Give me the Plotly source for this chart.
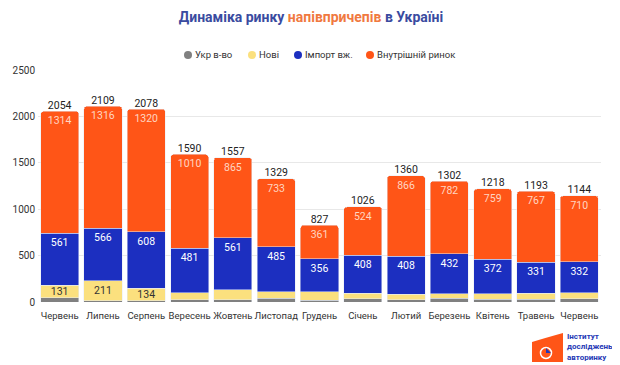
import plotly.graph_objects as go

months = ["Червень", "Липень", "Серпень", "Вересень", "Жовтень", "Листопад", "Грудень",
          "Січень", "Лютий", "Березень", "Квітень", "Травень", "Червень"]
ukr = [48, 16, 16, 24, 26, 39, 20, 33, 26, 38, 32, 30, 37]
new = [131, 211, 134, 75, 105, 72, 90, 61, 60, 50, 55, 65, 65]
imp = [561, 566, 608, 481, 561, 485, 356, 408, 408, 432, 372, 331, 332]
dom = [1314, 1316, 1320, 1010, 865, 733, 361, 524, 866, 782, 759, 767, 710]
new_labels = ["131", "211", "134", "", "", "", "", "", "", "", "", "", ""]
series_names = ["Укр в-во", "Нові", "Імпорт вж.", "Внутрішній ринок"]
y_ticks = [0, 500, 1000, 1500, 2000, 2500]

x = list(range(len(months)))
totals = [a + b + c + d for a, b, c, d in zip(ukr, new, imp, dom)]

C_GRAY = "#808080"
C_YEL = "#FBE07E"
C_BLUE = "#1C2FC0"
C_OR = "#FF5517"
COLORS = [C_GRAY, C_YEL, C_BLUE, C_OR]
FONT = "Roboto"

OFF = 8  # page body margin
W, H = 620 - OFF, 365 - OFF
ML, MT, MR, MB = 30, 62, 19, 63
PW, PH = W - ML - MR, H - MT - MB


def px(sx):  # screen x -> paper
    return (sx - OFF - ML) / PW


def py(sy):  # screen y -> paper
    return (H - MB - (sy - OFF)) / PH


fig = go.Figure()
fig.add_bar(x=x, y=ukr, marker_color=C_GRAY, showlegend=False, hoverinfo="skip")
fig.add_bar(x=x, y=new, marker_color=C_YEL, text=new_labels, textposition="inside",
            insidetextanchor="middle", textfont=dict(color="#333333", size=10.5, family=FONT),
            showlegend=False)
fig.add_bar(x=x, y=imp, marker_color=C_BLUE, text=[str(v) for v in imp], textposition="inside",
            insidetextanchor="end", textfont=dict(color="#FFFFFF", size=10.5, family=FONT),
            showlegend=False)
fig.add_bar(x=x, y=dom, marker_color=C_OR, text=[str(v) for v in dom], textposition="inside",
            insidetextanchor="end", textfont=dict(color="#FFD6C2", size=10.5, family=FONT),
            showlegend=False)
fig.add_scatter(x=x, y=totals, mode="text", text=[str(v) for v in totals],
                textposition="top center", textfont=dict(color="#222222", size=10.5, family=FONT),
                showlegend=False, cliponaxis=False)

fig.update_layout(
    width=W, height=H,
    margin=dict(l=ML, r=MR, t=MT, b=MB, autoexpand=False),
    paper_bgcolor="white", plot_bgcolor="white",
    barmode="stack", bargap=0.12, barcornerradius=3,
    font=dict(family=FONT, size=10, color="#333333"),
    uniformtext=dict(minsize=10, mode="show"),
    showlegend=False,
    title=dict(
        text="<b><span style='color:#3A4BA0'>Динаміка ринку </span>"
             "<span style='color:#F0793F'>напівпричепів</span>"
             "<span style='color:#3A4BA0'> в Україні</span></b>",
        x=(311 - OFF) / W, xanchor="center", y=1 - (17.5 - OFF) / H, yanchor="middle",
        font=dict(family=FONT, size=14)),
    xaxis=dict(tickvals=x, ticktext=months, range=[-0.5, len(months) - 0.5],
               showgrid=False, zeroline=False, showline=False, ticks="",
               tickangle=0, automargin=False, ticklabelstandoff=6,
               tickfont=dict(size=9.5, color="#333333")),
    yaxis=dict(range=[0, 2500], tickvals=y_ticks, showgrid=True, gridcolor="#E8E8E8",
               zeroline=False, showline=False, ticks="", ticklabelstandoff=2,
               automargin=False,
               tickfont=dict(size=10, color="#333333")),
)

# custom legend (circle markers close to their labels)
leg_marker_x = [188, 252, 298, 370]
leg_y = 55
for name, col, mx in zip(series_names, COLORS, leg_marker_x):
    fig.add_shape(type="circle", xref="paper", yref="paper", xsizemode="pixel", ysizemode="pixel",
                  xanchor=px(mx), yanchor=py(leg_y), x0=-4, x1=4, y0=-4, y1=4,
                  fillcolor=col, line_width=0)
    fig.add_annotation(text=name, xref="paper", yref="paper", x=px(mx + 5), y=py(leg_y),
                       xanchor="left", yanchor="middle", showarrow=False,
                       font=dict(family=FONT, size=9.5, color="#333333"))

# logo
fig.add_shape(type="path", xref="paper", yref="paper",
              path=f"M {px(532)} {py(342)} Q {px(545)} {py(338)} {px(563)} {py(333)} "
                   f"L {px(563)} {py(362)} L {px(532)} {py(362)} Z",
              fillcolor="#FF5517", line_width=0)
fig.add_shape(type="circle", xref="paper", yref="paper", xsizemode="pixel", ysizemode="pixel",
              xanchor=px(546), yanchor=py(353), x0=-5.5, x1=5.5, y0=-5.5, y1=5.5,
              fillcolor="#FF5517", line=dict(color="white", width=1.5))
fig.add_shape(type="path", xref="paper", yref="paper",
              path=f"M {px(546)} {py(353)} L {px(546)} {py(348)} L {px(551)} {py(353)} Z",
              fillcolor="#2438B5", line_width=0)
fig.add_annotation(text="<b>Інститут<br>досліджень<br>авторинку</b>", xref="paper", yref="paper",
                   x=px(565), y=py(347), xanchor="left", yanchor="middle", showarrow=False,
                   align="left", font=dict(family=FONT, size=8, color="#2438B5"))

fig.write_html("out.html")
